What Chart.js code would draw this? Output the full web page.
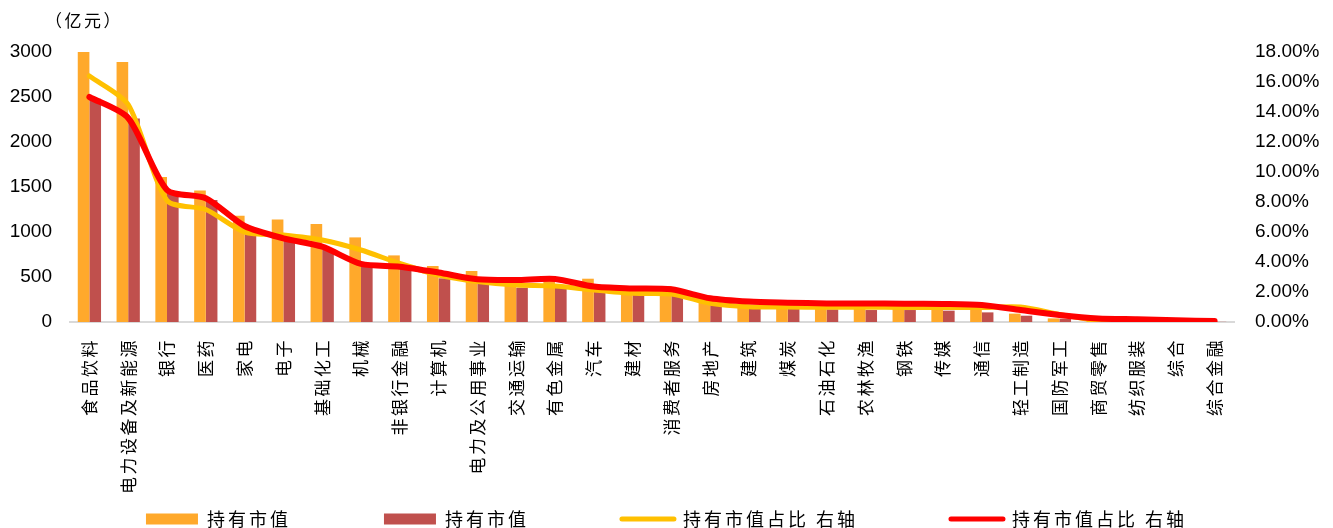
<!DOCTYPE html>
<html lang="zh-CN">
<head>
<meta charset="utf-8">
<title>行业持有市值</title>
<script src="https://cdn.jsdelivr.net/npm/chart.js@4.4.1/dist/chart.umd.min.js"></script>
<style>
  html, body { margin: 0; padding: 0; background: #ffffff; }
  #wrap { width: 1333px; height: 528px; }
</style>
</head>
<body>
<div id="wrap"><canvas id="chart" width="1333" height="528"></canvas></div>
<script>
// 行业分类
const industries = [
  '食品饮料', '电力设备及新能源', '银行', '医药', '家电', '电子', '基础化工', '机械',
  '非银行金融', '计算机', '电力及公用事业', '交通运输', '有色金属', '汽车', '建材',
  '消费者服务', '房地产', '建筑', '煤炭', '石油石化', '农林牧渔', '钢铁', '传媒',
  '通信', '轻工制造', '国防军工', '商贸零售', '纺织服装', '综合', '综合金融'
];

// 持有市值（亿元），左轴
const marketValueA = [
  3000, 2890, 1610, 1460, 1180, 1140, 1090, 940, 740, 622, 567, 493, 493, 481, 340,
  400, 226, 178, 170, 165, 160, 150, 145, 140, 93, 40, 15, 10, 6, 3
];
const marketValueB = [
  2480, 2260, 1450, 1356, 1022, 911, 800, 633, 614, 485, 430, 381, 381, 356, 307,
  300, 189, 159, 152, 141, 133, 133, 126, 107, 70, 37, 12, 8, 5, 2
];

// 持有市值占比（%），右轴
const shareA = [
  16.4, 14.5, 8.1, 7.5, 6.0, 5.8, 5.47, 4.8, 3.9, 3.13, 2.7, 2.47, 2.4, 2.13, 1.91,
  1.87, 1.25, 1.02, 1.0, 0.98, 0.98, 0.97, 0.97, 0.97, 1.0, 0.51, 0.1, 0.07, 0.05, 0.03
];
const shareB = [
  15.0, 13.6, 8.8, 8.25, 6.4, 5.58, 5.02, 3.87, 3.69, 3.3, 2.85, 2.8, 2.87, 2.36, 2.24,
  2.18, 1.58, 1.36, 1.29, 1.24, 1.24, 1.22, 1.2, 1.13, 0.8, 0.47, 0.24, 0.18, 0.11, 0.07
];

// 轴刻度
const leftTicks = [0, 500, 1000, 1500, 2000, 2500, 3000];
const rightTicks = [0, 2, 4, 6, 8, 10, 12, 14, 16, 18];
const unitLabel = '（亿元）';

const CJK_FONT = '"Noto Sans CJK SC", "Noto Sans", sans-serif';
const NUM_FONT = '"Liberation Sans", Arial, sans-serif';

const canvas = document.getElementById('chart');
const ctx = canvas.getContext('2d');

// 中文文字加一点字距，数字保持原样
(function addCjkSpacing(c) {
  const fill = c.fillText.bind(c);
  const measure = c.measureText.bind(c);
  const spacingFor = (t) => {
    if (!/[\u3000-\u9fff\uff00-\uffef]/.test(String(t))) return '0px';
    const m = /(\d+(?:\.\d+)?)px/.exec(c.font);
    const size = m ? parseFloat(m[1]) : 16;
    return size >= 18 ? '3px' : '2.5px';
  };
  c.fillText = function (t, x, y, w) {
    const prev = c.letterSpacing;
    c.letterSpacing = spacingFor(t);
    if (w === undefined) fill(t, x, y); else fill(t, x, y, w);
    c.letterSpacing = prev;
  };
  c.measureText = function (t) {
    const prev = c.letterSpacing;
    c.letterSpacing = spacingFor(t);
    const r = measure(t);
    c.letterSpacing = prev;
    return r;
  };
})(ctx);

// 左上角单位；行业名称竖排较长，不按坐标轴区域裁切
const unitPlugin = {
  id: 'unitLabel',
  beforeDraw(chart) {
    if (chart.scales.x) chart.scales.x._computeLabelArea = () => undefined;
  },
  afterDraw(chart) {
    const c = chart.ctx;
    c.save();
    c.font = '17px ' + CJK_FONT;
    c.fillStyle = '#000000';
    c.textBaseline = 'middle';
    c.textAlign = 'left';
    c.fillText(unitLabel, 45, 21);
    c.restore();
  }
};

new Chart(canvas, {
  data: {
    labels: industries,
    datasets: [
      {
        type: 'bar',
        label: '持有市值',
        data: marketValueA,
        yAxisID: 'y',
        backgroundColor: '#FFA92B',
        borderWidth: 0,
        categoryPercentage: 0.6,
        barPercentage: 1.0,
        order: 2
      },
      {
        type: 'bar',
        label: '持有市值',
        data: marketValueB,
        yAxisID: 'y',
        backgroundColor: '#C0504D',
        borderWidth: 0,
        categoryPercentage: 0.6,
        barPercentage: 1.0,
        order: 3
      },
      {
        type: 'line',
        label: '持有市值占比 右轴',
        data: shareA,
        yAxisID: 'y1',
        borderColor: '#FFC000',
        backgroundColor: '#FFC000',
        borderWidth: 5,
        borderCapStyle: 'round',
        borderJoinStyle: 'round',
        pointRadius: 0,
        tension: 0.25,
        order: 1
      },
      {
        type: 'line',
        label: '持有市值占比 右轴',
        data: shareB,
        yAxisID: 'y1',
        borderColor: '#FF0000',
        backgroundColor: '#FF0000',
        borderWidth: 6,
        borderCapStyle: 'round',
        borderJoinStyle: 'round',
        pointRadius: 0,
        tension: 0.25,
        order: 0
      }
    ]
  },
  options: {
    responsive: false,
    maintainAspectRatio: false,
    animation: false,
    layout: { padding: { top: 52, left: 0, right: 0, bottom: -10 } },
    plugins: {
      tooltip: { enabled: false },
      title: { display: false },
      legend: {
        position: 'bottom',
        align: 'center',
        labels: {
          usePointStyle: true,
          pointStyleWidth: 52,
          boxHeight: 11,
          padding: 93,
          color: '#000000',
          font: { family: CJK_FONT, size: 18 },
          sort: (a, b) => a.datasetIndex - b.datasetIndex,
          generateLabels(chart) {
            const items = Chart.defaults.plugins.legend.labels.generateLabels(chart);
            items.forEach((item) => {
              const ds = chart.data.datasets[item.datasetIndex];
              if (ds.type === 'line') {
                item.pointStyle = 'line';
                item.strokeStyle = ds.borderColor;
                item.lineWidth = 5;
                item.lineCap = 'round';
              } else {
                item.pointStyle = 'rect';
                item.fillStyle = ds.backgroundColor;
                item.lineWidth = 0;
              }
            });
            return items;
          }
        }
      }
    },
    scales: {
      x: {
        grid: { display: false, drawTicks: false },
        border: { display: true, color: '#D9D9D9', width: 2 },
        ticks: {
          autoSkip: false,
          minRotation: 90,
          maxRotation: 90,
          padding: 16,
          color: '#000000',
          font: { family: CJK_FONT, size: 17 }
        },
        afterFit(scale) { scale.height = 95; }
      },
      y: {
        position: 'left',
        min: leftTicks[0],
        max: leftTicks[leftTicks.length - 1],
        afterBuildTicks(scale) { scale.ticks = leftTicks.map((v) => ({ value: v })); },
        grid: { display: false, drawTicks: false },
        border: { display: false },
        ticks: {
          padding: 18,
          color: '#000000',
          font: { family: NUM_FONT, size: 19 },
          callback: (v) => String(v)
        },
        afterFit(scale) { scale.width = 70; }
      },
      y1: {
        position: 'right',
        min: rightTicks[0],
        max: rightTicks[rightTicks.length - 1],
        afterBuildTicks(scale) { scale.ticks = rightTicks.map((v) => ({ value: v })); },
        grid: { display: false, drawTicks: false },
        border: { display: false },
        ticks: {
          padding: 21,
          color: '#000000',
          font: { family: NUM_FONT, size: 19 },
          callback: (v) => Number(v).toFixed(2) + '%'
        },
        afterFit(scale) { scale.width = 99; }
      }
    }
  },
  plugins: [unitPlugin]
});
</script>
</body>
</html>
